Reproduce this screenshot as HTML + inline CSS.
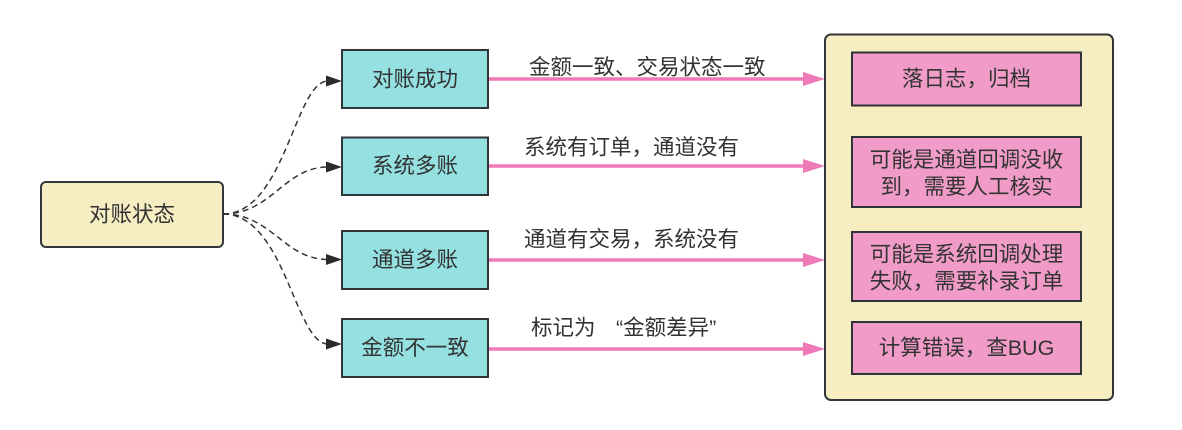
<!DOCTYPE html>
<html><head><meta charset="utf-8"><style>
html,body{margin:0;padding:0;background:#fff;}
svg{display:block;}
text{font-family:"Liberation Sans","Noto Sans CJK SC",sans-serif;font-size:21.5px;fill:#333;}
</style></head><body>
<svg width="1182" height="430" viewBox="0 0 1182 430" xmlns="http://www.w3.org/2000/svg">
<!-- left box -->
<rect x="41" y="182" width="182" height="65" rx="5" fill="#F6EDC2" stroke="#33373a" stroke-width="2"/>
<text x="132" y="214.5" text-anchor="middle" dominant-baseline="central">对账状态</text>

<!-- dashed curves -->
<g fill="none" stroke="#333" stroke-width="1.5" stroke-dasharray="6 4">
<path d="M223,214 C285,214 295,81 328,81"/>
<path d="M223,214 C272,214 284,167 328,167"/>
<path d="M223,214 C272,214 284,259.5 328,259.5"/>
<path d="M223,214 C285,214 295,344 328,344"/>
</g>
<g fill="#2b2b2b">
<path d="M342,81 L326,75.5 L326,86.5 Z"/>
<path d="M342,167 L326,161.5 L326,172.5 Z"/>
<path d="M342,259.5 L326,254 L326,265 Z"/>
<path d="M342,344 L326,338.5 L326,349.5 Z"/>
</g>

<!-- cyan boxes -->
<g fill="#95E0E0" stroke="#2f3438" stroke-width="2">
<rect x="342" y="50" width="146" height="58"/>
<rect x="342" y="137.5" width="146" height="57.5"/>
<rect x="342" y="231" width="146" height="58"/>
<rect x="342" y="319" width="146" height="58"/>
</g>
<g text-anchor="middle" dominant-baseline="central">
<text x="415" y="79.5">对账成功</text>
<text x="415" y="166">系统多账</text>
<text x="415" y="260">通道多账</text>
<text x="415" y="348">金额不一致</text>
</g>

<!-- pink lines -->
<g stroke="#EE7AB8" stroke-width="3.5" fill="none">
<line x1="489" y1="79" x2="806" y2="79"/>
<line x1="489" y1="166" x2="806" y2="166"/>
<line x1="489" y1="260" x2="806" y2="260"/>
<line x1="489" y1="349" x2="806" y2="349"/>
</g>
<g fill="#EE7AB8">
<path d="M825,79 L803,72 L803,86 Z"/>
<path d="M825,166 L803,159 L803,173 Z"/>
<path d="M825,260 L803,253 L803,267 Z"/>
<path d="M825,349 L803,342 L803,356 Z"/>
</g>

<!-- labels -->
<text x="529" y="67.5" dominant-baseline="central">金额一致、交易状态一致</text>
<text x="524" y="147.5" dominant-baseline="central">系统有订单，通道没有</text>
<text x="524" y="239.5" dominant-baseline="central">通道有交易，系统没有</text>
<text x="531" y="328" dominant-baseline="central">标记为</text>
<text x="616" y="328" dominant-baseline="central">“金额差异”</text>

<!-- container -->
<rect x="825" y="34.5" width="288" height="365.5" rx="6" fill="#F6EDC2" stroke="#33373a" stroke-width="2"/>
<g fill="#F19CC8" stroke="#2f3438" stroke-width="2">
<rect x="852" y="52.5" width="229" height="53"/>
<rect x="852" y="137" width="229" height="70"/>
<rect x="852" y="232" width="229" height="69"/>
<rect x="852" y="322" width="229" height="52"/>
</g>
<g text-anchor="middle" dominant-baseline="central">
<text x="966.5" y="79">落日志，归档</text>
<text x="966.5" y="160">可能是通道回调没收</text>
<text x="966.5" y="187">到，需要人工核实</text>
<text x="966.5" y="254.5">可能是系统回调处理</text>
<text x="966.5" y="281.5">失败，需要补录订单</text>
<text x="966.5" y="348">计算错误，查BUG</text>
</g>
</svg>
</body></html>
